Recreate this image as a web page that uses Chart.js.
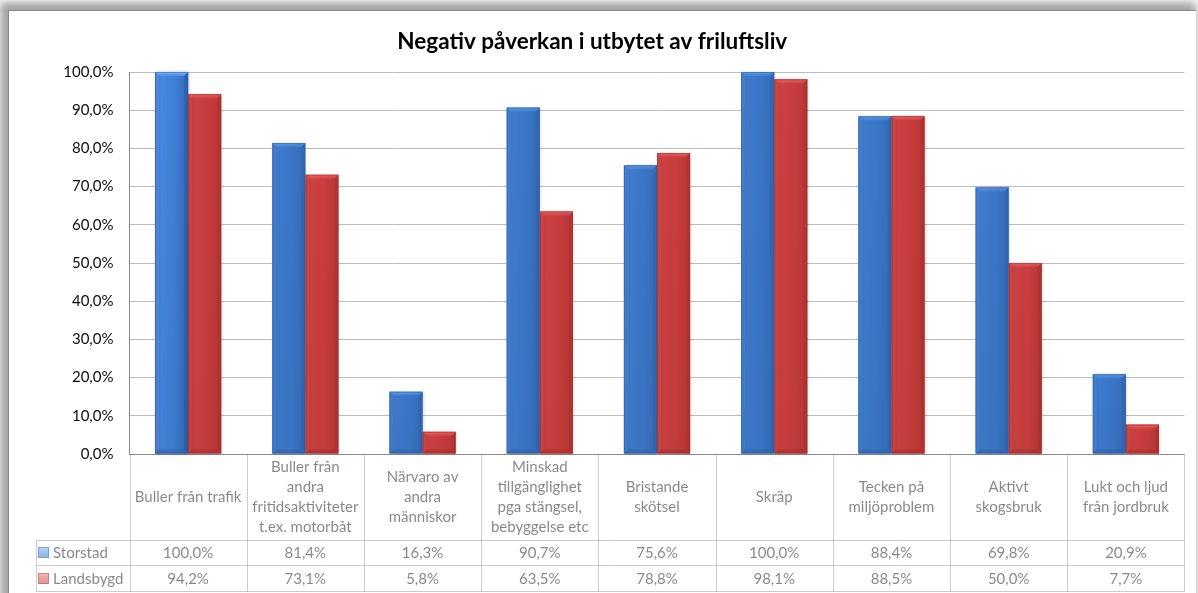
<!DOCTYPE html>
<html lang="sv">
<head>
<meta charset="utf-8">
<title>Negativ påverkan i utbytet av friluftsliv</title>
<script src="https://cdn.jsdelivr.net/npm/chart.js@4"></script>
<style>
  html, body { margin: 0; padding: 0; background: #fff; overflow: hidden; }
  .frame {
    position: absolute; left: 8px; top: 10px; width: 1187px; height: 620px;
    background: #fff; border-left: 1px solid #8a8a8a; border-top: 1px solid #8a8a8a;
    box-shadow: -4px -4px 8px 4px rgba(0,0,0,0.36);
  }
  #chart { position: absolute; left: 0; top: 0; }
</style>
</head>
<body>
<div class="frame"></div>
<canvas id="chart" width="1198" height="593"></canvas>
<script>
const FONT = "Lato, 'Open Sans', sans-serif";

const categories = [
  ['Buller från trafik'],
  ['Buller från', 'andra', 'fritidsaktiviteter', 't.ex. motorbåt'],
  ['Närvaro av', 'andra', 'människor'],
  ['Minskad', 'tillgänglighet', 'pga stängsel,', 'bebyggelse etc'],
  ['Bristande', 'skötsel'],
  ['Skräp'],
  ['Tecken på', 'miljöproblem'],
  ['Aktivt', 'skogsbruk'],
  ['Lukt och ljud', 'från jordbruk']
];
const seriesNames = ['Storstad', 'Landsbygd'];
const storstad  = [100.0, 81.4, 16.3, 90.7, 75.6, 100.0, 88.4, 69.8, 20.9];
const landsbygd = [94.2, 73.1, 5.8, 63.5, 78.8, 98.1, 88.5, 50.0, 7.7];

// bar shading per series: body gradient, bevel colours
const palettes = [
  { base: '#3f7fd6', body: ['#3671c8', '#4689e2', '#3f80d8', '#3469bb'], top: '#7fb4f2', bottom: '#2f5fa6', edge: '#2b5aa0' },
  { base: '#d74141', body: ['#c23737', '#e04a4a', '#d94242', '#b93434'], top: '#f28484', bottom: '#a42e2e', edge: '#9a2b2b' }
];

const fmt = v => v.toFixed(1).replace('.', ',') + '%';

// Excel-like bevelled bars, painted over the plain bars
const bevelBars = {
  id: 'bevelBars',
  afterDatasetsDraw(chart) {
    const c = chart.ctx;
    chart.data.datasets.forEach((ds, di) => {
      const pal = palettes[di];
      chart.getDatasetMeta(di).data.forEach(bar => {
        const { x, y, base, width } = bar.getProps(['x', 'y', 'base', 'width'], true);
        const L = x - width / 2, R = x + width / 2, T = y, B = base;
        const b = Math.min(4, (B - T) / 3);
        c.save();
        // soft shadow
        c.shadowColor = 'rgba(0,0,0,0.3)';
        c.shadowBlur = 3;
        c.shadowOffsetX = 1;
        c.shadowOffsetY = 0;
        const g = c.createLinearGradient(L, 0, R, 0);
        g.addColorStop(0, pal.body[0]);
        g.addColorStop(0.2, pal.body[1]);
        g.addColorStop(0.6, pal.body[2]);
        g.addColorStop(1, pal.body[3]);
        c.fillStyle = g;
        c.fillRect(L, T, R - L, B - T);
        c.restore();

        // slightly darker towards the base
        const v = c.createLinearGradient(0, T, 0, B);
        v.addColorStop(0, 'rgba(0,0,0,0)');
        v.addColorStop(1, 'rgba(0,0,0,0.06)');
        c.fillStyle = v;
        c.fillRect(L, T, R - L, B - T);

        // top bevel
        const tg = c.createLinearGradient(0, T, 0, T + b);
        tg.addColorStop(0, pal.top);
        tg.addColorStop(1, pal.body[1]);
        c.fillStyle = tg;
        c.beginPath();
        c.moveTo(L, T); c.lineTo(R, T); c.lineTo(R - b, T + b); c.lineTo(L + b, T + b);
        c.closePath(); c.fill();

        // side bevels
        c.fillStyle = 'rgba(255,255,255,0.10)';
        c.beginPath();
        c.moveTo(L, T); c.lineTo(L + b, T + b); c.lineTo(L + b, B - b); c.lineTo(L, B);
        c.closePath(); c.fill();
        c.fillStyle = 'rgba(0,0,0,0.10)';
        c.beginPath();
        c.moveTo(R, T); c.lineTo(R - b, T + b); c.lineTo(R - b, B - b); c.lineTo(R, B);
        c.closePath(); c.fill();

        // bottom bevel
        c.fillStyle = pal.bottom;
        c.globalAlpha = 0.5;
        c.beginPath();
        c.moveTo(L, B); c.lineTo(L + b, B - b); c.lineTo(R - b, B - b); c.lineTo(R, B);
        c.closePath(); c.fill();
        c.globalAlpha = 1;

        c.strokeStyle = pal.edge;
        c.globalAlpha = 0.5;
        c.lineWidth = 1;
        c.strokeRect(L + 0.5, T + 0.5, R - L - 1, B - T - 1);
        c.restore();
      });
    });
  }
};

// data table under the plot: category headers, legend keys and values
const dataTable = {
  id: 'dataTable',
  afterDraw(chart) {
    const c = chart.ctx;
    const xs = chart.scales.x;
    const area = chart.chartArea;
    const half = (xs.getPixelForValue(1) - xs.getPixelForValue(0)) / 2;
    const top = area.bottom;
    const headBottom = top + 85.5;
    const rowH = 25.5;
    const tableLeft = 36.5;
    const bottom = headBottom + rowH * 2;

    c.save();
    c.strokeStyle = '#9a9a9a';
    c.lineWidth = 1;
    c.beginPath();
    // horizontal rules
    [headBottom, headBottom + rowH, bottom].forEach(yy => {
      c.moveTo(tableLeft, Math.round(yy) + 0.5);
      c.lineTo(area.right, Math.round(yy) + 0.5);
    });
    // column rules
    c.moveTo(tableLeft, Math.round(headBottom)); c.lineTo(tableLeft, Math.round(bottom) + 1);
    for (let i = 0; i <= categories.length; i++) {
      const xx = Math.round(xs.getPixelForValue(0) - half + i * half * 2) + 0.5;
      c.moveTo(xx, top); c.lineTo(xx, Math.round(bottom) + 1);
    }
    c.stroke();

    c.fillStyle = '#0d0d0d';
    c.font = `15px ${FONT}`;
    c.textAlign = 'center';
    c.textBaseline = 'middle';
    const lh = 20;
    const midHead = (top + headBottom) / 2;
    categories.forEach((lines, i) => {
      const cx = xs.getPixelForValue(i);
      const y0 = midHead - (lines.length - 1) * lh / 2;
      lines.forEach((t, k) => c.fillText(t, cx, y0 + k * lh));
    });

    chart.data.datasets.forEach((ds, di) => {
      const cy = headBottom + rowH * di + rowH / 2 + 1;
      ds.data.forEach((v, i) => c.fillText(fmt(v), xs.getPixelForValue(i), cy));
      // legend key
      const pal = palettes[di];
      const kx = 38.5, ky = Math.round(cy) - 5.5;
      const kg = c.createLinearGradient(0, ky, 0, ky + 10);
      kg.addColorStop(0, pal.top);
      kg.addColorStop(0.35, pal.body[1]);
      kg.addColorStop(1, pal.body[3]);
      c.fillStyle = kg;
      c.fillRect(kx, ky, 10, 10);
      c.strokeStyle = pal.edge;
      c.strokeRect(kx, ky, 10, 10);
      c.fillStyle = '#0d0d0d';
      c.textAlign = 'left';
      c.fillText(ds.label, 53, cy);
      c.textAlign = 'center';
    });
    c.restore();
  }
};

new Chart(document.getElementById('chart'), {
  type: 'bar',
  plugins: [bevelBars, dataTable],
  data: {
    labels: categories,
    datasets: [
      { label: seriesNames[0], data: storstad, backgroundColor: palettes[0].base },
      { label: seriesNames[1], data: landsbygd, backgroundColor: palettes[1].base }
    ]
  },
  options: {
    responsive: false,
    animation: false,
    events: [],
    layout: { padding: { left: 0, right: 13.5, top: 0, bottom: 0 } },
    datasets: { bar: { categoryPercentage: 0.565, barPercentage: 1.0, borderWidth: 0 } },
    plugins: {
      legend: { display: false },
      tooltip: { enabled: false },
      title: {
        display: true,
        text: 'Negativ påverkan i utbytet av friluftsliv',
        color: '#000',
        font: { family: FONT, size: 22.5, weight: 'bold' },
        padding: { top: 28.5, bottom: 16.5 }
      }
    },
    scales: {
      x: {
        ticks: { display: false },
        grid: { display: false },
        border: { display: false },
        afterFit: axis => { axis.height = 139; }
      },
      y: {
        min: 0, max: 100,
        ticks: {
          stepSize: 10,
          padding: 16,
          color: '#0d0d0d',
          font: { family: FONT, size: 15 },
          callback: v => fmt(v)
        },
        grid: {
          drawTicks: false,
          color: ctx => ctx.tick && ctx.tick.value === 0 ? '#8a8a8a' : '#bcbcbc'
        },
        border: { color: '#8a8a8a' },
        afterFit: axis => { axis.width = 129.5; }
      }
    }
  }
});
</script>
</body>
</html>
